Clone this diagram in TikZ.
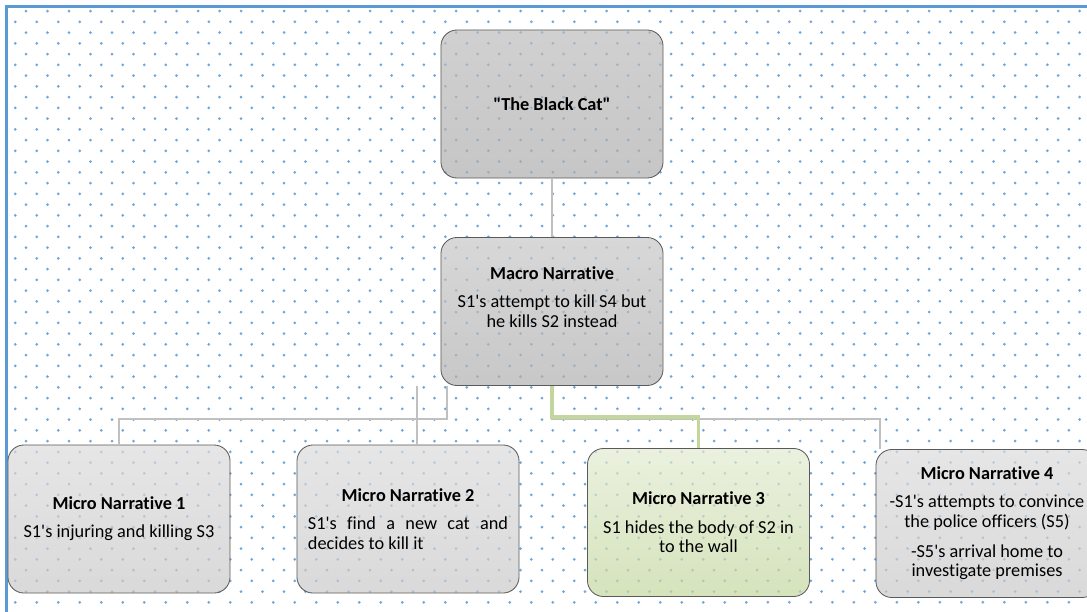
\documentclass[tikz,border=0pt]{standalone}
\usepackage{fontspec}
\setmainfont{Carlito}[Ligatures={TeXOff,NoCommon}]
\usetikzlibrary{positioning,calc}

\definecolor{dotblue}{HTML}{6FA6DC}
\definecolor{frameblue}{HTML}{5B9BD5}
\definecolor{linkgrey}{HTML}{C0C0C0}
\definecolor{linkgreen}{HTML}{C3D69B}
\definecolor{edgegrey}{HTML}{5A5A5A}

\newcommand{\boxfont}{\fontsize{13}{14}\selectfont\hyphenpenalty 10000 \tolerance 9999 \relax}

\begin{document}
\begin{tikzpicture}[x=0.025cm, y=-0.025cm,
    txt/.style={font=\boxfont},
    box/.style={txt, draw=edgegrey, line width=0.6pt, rounded corners=0.4cm,
        minimum width=5.55cm, minimum height=3.7cm, text width=5cm, align=flush center,
        fill opacity=0.7, draw opacity=1, text opacity=1},
    titlebox/.style={box, top color=black!26, bottom color=black!32},
    macrobox/.style={box, top color=black!22, bottom color=black!31},
    microbox/.style={box, top color=black!14, bottom color=black!21},
    greenbox/.style={box, top color={rgb,255:red,226;green,235;blue,209},
        bottom color={rgb,255:red,196;green,215;blue,159}},
    link/.style={draw=linkgrey, line width=1.4pt},
    greenlink/.style={draw=linkgreen, line width=2.5pt}]

        \clip (0,0) rectangle (1087,612);

        %%%% Background =================================
        \foreach \n in {0,...,55} {
            \pgfmathsetmacro{\yy}{11+10.75*\n}
            \pgfmathsetmacro{\xs}{mod(\n,2)==0 ? 26 : 15.25}
            \foreach \m in {0,...,50}
                \fill[dotblue] (\xs+21.5*\m,\yy) circle (1.5);
        }
        \draw[frameblue, line width=1.5pt] (6.5,630) |- (1100,6.5);

        %%%% Top ========================================
        \node[titlebox] (story) at (552,104) {\textbf{"The Black Cat"}};
        \node[macrobox] (macro) at (552,311.5) {};
        \node[txt, align=flush center] (macrotext) at (552,297)
            {\textbf{Macro Narrative}\\[6pt]S1's attempt to kill S4 but\\he kills S2 instead};

        %%%% Micro narratives ===========================
        \node[microbox] (micro1) at (119,519)
            {\textbf{Micro Narrative 1}\\[6pt]S1's injuring and killing S3};
        \node[microbox, align=justify] (micro2) at (408,519)
            {{\centering\textbf{Micro Narrative 2}\par}\vspace{6pt}\noindent S1's find a new cat and decides to kill it};
        \node[greenbox] (micro3) at (698.5,522.5)
            {\textbf{Micro Narrative 3}\\[6pt]S1 hides the body of S2 in\\to the wall};
        \node[microbox] (micro4) at (987,523.5)
            {\textbf{Micro Narrative 4}\\[6pt]-S1's attempts to convince\\the police officers (S5)\\[7pt]-S5's arrival home to\\investigate premises};

        %%%% Connectors =================================
        \coordinate (gap2) at ($(macro.south west)+(-24,0)$);
        \draw[link] (story) -- (macro);
        \draw[link] ($(macro.south west)+(6,0)$) -- ++(0,33) -| (micro1.north);
        \draw[link] (gap2) -- (gap2 |- micro2.north);
        \draw[link] (macro.south) -- ++(0,33) -| ($(micro4.north west)+(4,0)$);
        \draw[greenlink] (macro.south) -- ++(0,31) -| (micro3.north);
\end{tikzpicture}
\end{document}
